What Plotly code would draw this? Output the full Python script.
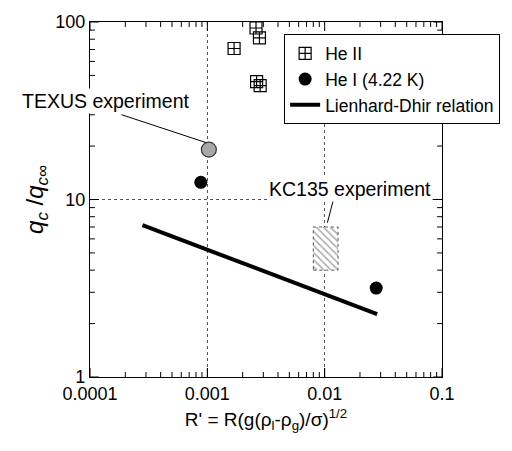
import plotly.graph_objects as go

# ---- data ----
he2_x = [0.00169, 0.0026, 0.00278, 0.00263, 0.00282]
he2_y = [70.9, 92.5, 81.3, 46.1, 43.8]

he1_x = [0.00088, 0.0275]
he1_y = [12.5, 3.17]

ld_x = [0.00028, 0.028]
ld_y = [7.17, 2.26]

texus_x = [0.00103]
texus_y = [19.1]

kc_x = [0.008, 0.013]
kc_y = [4.0, 7.0]

x_tickvals = [0.0001, 0.001, 0.01, 0.1]
x_ticktext = ["0.0001", "0.001", "0.01", "0.1"]
y_tickvals = [1, 10, 100]
y_ticktext = ["1", "10", "100"]

FONT = "Liberation Sans, Arial, Helvetica, sans-serif"
PLOT_W, PLOT_H = 359, 357          # plot-area size in px (from the margins below)
MAJOR_LEN, MINOR_LEN = 9, 5        # tick lengths in px
X_DECADES, Y_DECADES = 3, 2


def minor_vals(majors):
    out = []
    for m in majors[:-1]:
        out += [m * k for k in range(2, 10)]
    return out


fig = go.Figure()

# KC135 hatched box
fig.add_trace(go.Scatter(
    x=[kc_x[0], kc_x[1], kc_x[1], kc_x[0], kc_x[0]],
    y=[kc_y[0], kc_y[0], kc_y[1], kc_y[1], kc_y[0]],
    mode="lines", fill="toself",
    fillpattern=dict(shape="\\", fgcolor="#555555", bgcolor="white", size=5, solidity=0.3),
    line=dict(color="#555555", width=1, dash="dot"),
    showlegend=False, hoverinfo="skip"))

# He II
fig.add_trace(go.Scatter(
    x=he2_x, y=he2_y, mode="markers", name="He II",
    marker=dict(symbol="square-cross-open", size=12, color="black", line=dict(width=1.2))))

# He I
fig.add_trace(go.Scatter(
    x=he1_x, y=he1_y, mode="markers", name="He I (4.22 K)",
    marker=dict(symbol="circle", size=13, color="black")))

# Lienhard-Dhir relation
fig.add_trace(go.Scatter(
    x=ld_x, y=ld_y, mode="lines", name="Lienhard-Dhir relation",
    line=dict(color="black", width=4)))

# TEXUS
fig.add_trace(go.Scatter(
    x=texus_x, y=texus_y, mode="markers", showlegend=False,
    marker=dict(symbol="circle", size=15, color="#a8a8a8", line=dict(color="#333333", width=1.2))))

axis_common = dict(
    type="log", showline=True, linecolor="black", linewidth=1.3, mirror=True,
    ticks="inside", ticklen=MAJOR_LEN, tickwidth=1, tickcolor="black", zeroline=False,
    showgrid=True, gridcolor="#555555", griddash="dot", gridwidth=1,
    tickfont=dict(family=FONT, size=18, color="black"), tickmode="array",
)

fig.update_xaxes(**axis_common, range=[-4, -1], tickvals=x_tickvals, ticktext=x_ticktext,
                 title=dict(text="R' = R(g(ρ<sub>l</sub>-ρ<sub>g</sub>)/σ)<sup>1/2</sup>",
                            font=dict(family=FONT, size=19, color="black"), standoff=9))
fig.update_yaxes(**axis_common, range=[0, 2], tickvals=y_tickvals, ticktext=y_ticktext,
                 title=dict(text="<i>q</i><sub><i>c</i></sub> /<i>q</i><sub><i>c∞</i></sub>",
                            font=dict(family=FONT, size=24, color="black"), standoff=4))

# inside tick marks on all four sides of the frame, as lines in data space
tick_line = dict(color="black", width=1)
y_lo, y_hi = y_tickvals[0], y_tickvals[-1]
x_lo, x_hi = x_tickvals[0], x_tickvals[-1]
for vals, length in ((x_tickvals, MAJOR_LEN), (minor_vals(x_tickvals), MINOR_LEN)):
    f = 10 ** (length * Y_DECADES / PLOT_H)
    for v in vals:
        fig.add_shape(type="line", xref="x", yref="y", x0=v, x1=v, y0=y_lo, y1=y_lo * f, line=tick_line)
        fig.add_shape(type="line", xref="x", yref="y", x0=v, x1=v, y0=y_hi, y1=y_hi / f, line=tick_line)
for vals, length in ((y_tickvals, MAJOR_LEN), (minor_vals(y_tickvals), MINOR_LEN)):
    f = 10 ** (length * X_DECADES / PLOT_W)
    for v in vals:
        fig.add_shape(type="line", xref="x", yref="y", y0=v, y1=v, x0=x_lo, x1=x_lo * f, line=tick_line)
        fig.add_shape(type="line", xref="x", yref="y", y0=v, y1=v, x0=x_hi, x1=x_hi / f, line=tick_line)

# annotations (log-axis annotation positions are given in log10 units)
fig.add_annotation(x=-3.866, y=1.557, xref="x", yref="y", text="TEXUS experiment", showarrow=False,
                   font=dict(family=FONT, size=19.5, color="black"), bgcolor="white", borderpad=1)
fig.add_annotation(x=-1.78, y=1.058, xref="x", yref="y", text="KC135 experiment", showarrow=False,
                   font=dict(family=FONT, size=19.5, color="black"), bgcolor="white", borderpad=1)

# leader lines (shape positions on log axes are data values)
fig.add_shape(type="line", xref="x", yref="y",
              x0=10 ** -3.732, y0=10 ** 1.478, x1=10 ** -3.013, y1=10 ** 1.321,
              line=dict(color="black", width=1))
fig.add_shape(type="line", xref="x", yref="y",
              x0=10 ** -1.929, y0=10 ** 0.99, x1=10 ** -1.977, y1=10 ** 0.869,
              line=dict(color="black", width=1))

fig.update_layout(
    width=512, height=451,
    margin=dict(l=90, r=63, t=20, b=74),
    paper_bgcolor="white", plot_bgcolor="white",
    font=dict(family=FONT, color="black"),
    showlegend=True,
    legend=dict(x=0.5515, y=0.965, xanchor="left", yanchor="top",
                bgcolor="white", bordercolor="black", borderwidth=1,
                font=dict(family=FONT, size=17.5, color="black"),
                tracegroupgap=0, itemwidth=30),
)

fig.write_html("out.html")
